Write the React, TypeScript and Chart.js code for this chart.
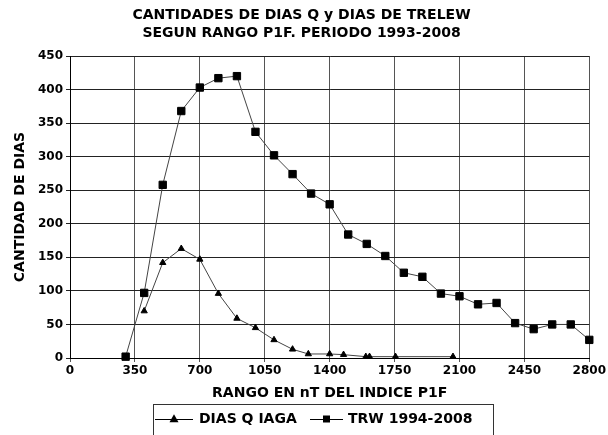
import React, { useEffect, useRef } from 'react';
import { Chart, registerables } from 'chart.js';

Chart.register(...registerables);

const TITLE_LINES = ['CANTIDADES DE DIAS Q y DIAS DE TRELEW', 'SEGUN RANGO P1F. PERIODO 1993-2008'];
const X_TITLE = 'RANGO EN nT DEL INDICE P1F';
const Y_TITLE = 'CANTIDAD DE DIAS';

const Q_LABEL = 'DIAS Q IAGA';
const Q_X = [400, 500, 600, 700, 800, 900, 1000, 1100, 1200, 1285, 1400, 1475, 1595, 1615, 1755, 2065];
const Q_Y = [70, 142, 163, 147, 96, 59, 45, 27, 13, 6, 6, 5, 2, 2, 2, 2];

const TRW_LABEL = 'TRW 1994-2008';
const TRW_X = [300, 400, 500, 600, 700, 800, 900, 1000, 1100, 1200, 1300, 1400, 1500, 1600, 1700, 1800, 1900, 2000, 2100, 2200, 2300, 2400, 2500, 2600, 2700, 2800];
const TRW_Y = [2, 97, 258, 368, 403, 417, 420, 337, 302, 274, 245, 229, 184, 170, 152, 127, 121, 96, 92, 80, 82, 52, 43, 50, 50, 27];

const X_MIN = 0;
const X_MAX = 2800;
const X_STEP = 350;
const Y_MIN = 0;
const Y_MAX = 450;
const Y_STEP = 50;

const FONT = "'DejaVu Sans', sans-serif";

function drawMarker(ctx: CanvasRenderingContext2D, style: string, x: number, y: number, size: number) {
  ctx.beginPath();
  if (style === 'triangle') {
    const h = size * 0.9;
    ctx.moveTo(x, y - h * 0.6);
    ctx.lineTo(x + size / 2, y + h * 0.4);
    ctx.lineTo(x - size / 2, y + h * 0.4);
    ctx.closePath();
  } else {
    ctx.rect(x - size / 2, y - size / 2, size, size);
  }
  ctx.fill();
}

const legendBoxPlugin = {
  id: 'legendBox',
  afterDraw(chart: any) {
    const ctx: CanvasRenderingContext2D = chart.ctx;
    ctx.save();
    ctx.strokeStyle = '#333';
    ctx.lineWidth = 1;
    ctx.strokeRect(153.5, 404.5, 340, 60);
    const slots = [
      { x0: 155, x1: 193, tx: 199, size: 9 },
      { x0: 310, x1: 343, tx: 348, size: 7 },
    ];
    const y = 419;
    chart.data.datasets.forEach((ds: any, i: number) => {
      const s = slots[i];
      if (!s) return;
      ctx.strokeStyle = '#000';
      ctx.lineWidth = 1;
      ctx.beginPath();
      ctx.moveTo(s.x0, y + 0.5);
      ctx.lineTo(s.x1, y + 0.5);
      ctx.stroke();
      ctx.fillStyle = '#000';
      drawMarker(ctx, ds.pointStyle, (s.x0 + s.x1) / 2, y, s.size);
      ctx.font = `bold 14px ${FONT}`;
      ctx.textBaseline = 'middle';
      ctx.textAlign = 'left';
      ctx.fillText(ds.label, s.tx, y);
    });
    ctx.restore();
  },
};

export default function App() {
  const ref = useRef<HTMLCanvasElement | null>(null);

  useEffect(() => {
    if (!ref.current) return;
    const qData = Q_X.map((x, i) => ({ x, y: Q_Y[i] }));
    const trwData = TRW_X.map((x, i) => ({ x, y: TRW_Y[i] }));
    const tickFont = { family: FONT, size: 12, weight: 'bold' as const };
    const chart = new Chart(ref.current, {
      type: 'line',
      data: {
        datasets: [
          {
            label: Q_LABEL,
            data: qData,
            borderColor: '#444',
            borderWidth: 1,
            pointStyle: 'triangle',
            pointRadius: 3.6,
            pointBorderWidth: 1,
            pointBackgroundColor: '#000',
            pointBorderColor: '#000',
            clip: false,
          },
          {
            label: TRW_LABEL,
            data: trwData,
            borderColor: '#444',
            borderWidth: 1,
            pointStyle: 'rect',
            pointRadius: 5.2,
            pointBorderWidth: 1,
            pointBackgroundColor: '#000',
            pointBorderColor: '#000',
            clip: false,
          },
        ],
      },
      options: {
        animation: false,
        responsive: false,
        devicePixelRatio: 1,
        events: [],
        layout: { padding: { left: 12, right: 17, top: 0, bottom: 33 } },
        plugins: {
          legend: { display: false },
          tooltip: { enabled: false },
          title: {
            display: true,
            text: TITLE_LINES,
            color: '#000',
            font: { family: FONT, size: 14, weight: 'bold', lineHeight: 1.25 },
            padding: { top: 7, bottom: 14 },
          },
        },
        scales: {
          x: {
            type: 'linear',
            min: X_MIN,
            max: X_MAX,
            ticks: {
              stepSize: X_STEP,
              autoSkip: false,
              maxRotation: 0,
              color: '#000',
              font: tickFont,
              padding: 2,
              callback: (v: any) => String(v),
            },
            grid: { color: '#555', lineWidth: 1, tickLength: 4, drawTicks: true },
            border: { color: '#000', width: 1 },
            title: {
              display: true,
              text: X_TITLE,
              color: '#000',
              font: { family: FONT, size: 14, weight: 'bold', lineHeight: 1.2 },
              padding: { top: 0, bottom: 0 },
            },
            afterFit: (s: any) => {
              s.height = 44;
            },
          },
          y: {
            type: 'linear',
            min: Y_MIN,
            max: Y_MAX,
            ticks: {
              stepSize: Y_STEP,
              color: '#000',
              font: tickFont,
              padding: 3,
              callback: (v: any) => String(v),
            },
            grid: { color: '#222', lineWidth: 1, tickLength: 4, drawTicks: true },
            border: { color: '#000', width: 1 },
            title: {
              display: true,
              text: Y_TITLE,
              color: '#000',
              font: { family: FONT, size: 14, weight: 'bold', lineHeight: 1.2 },
              padding: { top: 0, bottom: 0 },
            },
            afterFit: (s: any) => {
              s.width = 58;
            },
          },
        },
      },
      plugins: [legendBoxPlugin],
    });
    return () => chart.destroy();
  }, []);

  return (
    <div style={{ position: 'absolute', left: 0, top: 0, width: 608, height: 435, background: '#fff' }}>
      <canvas ref={ref} width={608} height={435} style={{ display: 'block' }} />
    </div>
  );
}
